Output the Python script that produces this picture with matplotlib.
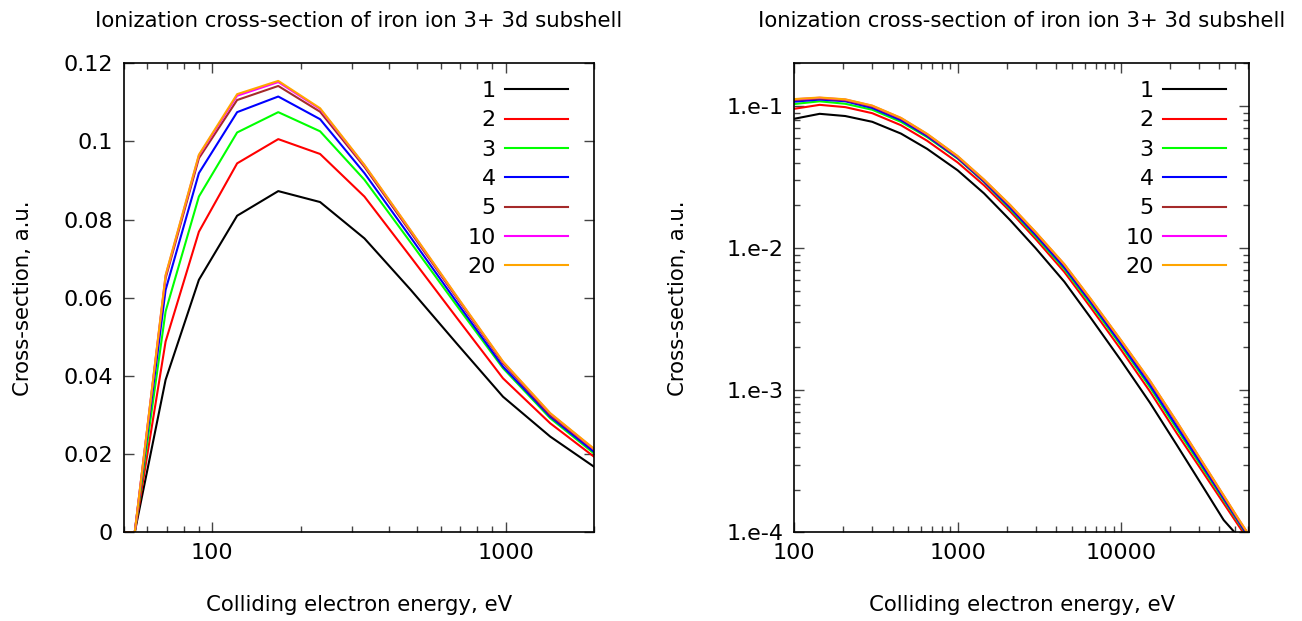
import numpy as np
import matplotlib
matplotlib.use('Agg')
import matplotlib.pyplot as plt
from matplotlib.ticker import LogLocator, FixedLocator, FuncFormatter, NullFormatter

# --- data ---
labels = ['1', '2', '3', '4', '5', '10', '20']
colors = ['#000000', '#ff0000', '#00ff00', '#0000ff', '#a52a2a', '#ff00ff', '#ffa500']

# left panel (linear y)
E_lin = [50, 54.4, 69.3, 90, 121.5, 167.8, 233, 330, 475, 681, 979, 1418, 2052]
s1_lin = [0, 0, 0.0390, 0.0646, 0.0810, 0.0873, 0.0845, 0.0752, 0.0620, 0.0483, 0.0347, 0.0245, 0.0162]
s2_lin = [0, 0, 0.0488, 0.0769, 0.0944, 0.1006, 0.0968, 0.0859, 0.0704, 0.0549, 0.0394, 0.0279, 0.0187]
s3_lin = [0, 0, 0.0565, 0.0859, 0.1023, 0.1075, 0.1026, 0.0902, 0.0741, 0.0580, 0.0420, 0.0292, 0.0195]
s4_lin = [0, 0, 0.0620, 0.0919, 0.1075, 0.1115, 0.1057, 0.0919, 0.0754, 0.0589, 0.0424, 0.0296, 0.0199]
s5_lin = [0, 0, 0.0650, 0.0957, 0.1106, 0.1142, 0.1076, 0.0935, 0.0767, 0.0600, 0.0433, 0.0300, 0.0205]
s10_lin = [0, 0, 0.0656, 0.0964, 0.1117, 0.1152, 0.1083, 0.0939, 0.0771, 0.0603, 0.0436, 0.0304, 0.0206]
s20_lin = [0, 0, 0.0658, 0.0966, 0.1121, 0.1155, 0.1085, 0.0940, 0.0772, 0.0604, 0.0437, 0.0305, 0.0207]

# right panel (log-log)
E_log = [100, 143, 205, 300, 450, 650, 1000, 1450, 2100, 3000, 4500, 6500, 10000,
         15000, 22000, 32000, 42500, 52000, 61000]
s1_log = [0.0814, 0.0882, 0.0851, 0.0775, 0.0640, 0.0500, 0.0353, 0.0243, 0.0157, 0.0100,
          0.0058, 0.00325, 0.00162, 8.2e-4, 4.1e-4, 2.06e-4, 1.22e-4, 9.4e-5, 7.7e-5]
s2_log = [0.0957, 0.1020, 0.0983, 0.0891, 0.0733, 0.0570, 0.0401, 0.0277, 0.0181, 0.0116,
          0.00679, 0.00384, 0.00193, 9.84e-4, 4.96e-4, 2.61e-4, 1.60e-4, 1.13e-4, 8.6e-5]
s3_log = [0.1034, 0.1080, 0.1038, 0.0942, 0.0774, 0.0605, 0.0427, 0.0292, 0.0188, 0.0121,
          0.00713, 0.00406, 0.00206, 1.054e-3, 5.33e-4, 2.77e-4, 1.69e-4, 1.19e-4, 9.0e-5]
s4_log = [0.1074, 0.1111, 0.1081, 0.0969, 0.0794, 0.0615, 0.0431, 0.0294, 0.0192, 0.0124,
          0.00731, 0.00419, 0.00212, 1.091e-3, 5.54e-4, 2.86e-4, 1.73e-4, 1.21e-4, 9.1e-5]
s5_log = [0.1103, 0.1132, 0.1099, 0.0993, 0.0814, 0.0628, 0.0438, 0.0299, 0.0198, 0.0128,
          0.00759, 0.00435, 0.00222, 1.155e-3, 5.90e-4, 2.99e-4, 1.79e-4, 1.24e-4, 9.4e-5]
s10_log = [0.1116, 0.1144, 0.1112, 0.1004, 0.0823, 0.0635, 0.0443, 0.0303, 0.0200, 0.01295,
           0.00768, 0.00440, 0.00224, 1.168e-3, 5.97e-4, 3.03e-4, 1.81e-4, 1.255e-4, 9.46e-5]
s20_log = [0.1120, 0.1149, 0.1116, 0.1008, 0.0826, 0.0638, 0.0445, 0.0304, 0.0201, 0.0130,
           0.00771, 0.00442, 0.00225, 1.173e-3, 5.99e-4, 3.04e-4, 1.82e-4, 1.26e-4, 9.5e-5]

lin_series = [s1_lin, s2_lin, s3_lin, s4_lin, s5_lin, s10_lin, s20_lin]
log_series = [s1_log, s2_log, s3_log, s4_log, s5_log, s10_log, s20_log]

title = 'Ionization cross-section of iron ion 3+ 3d subshell'
xlab = 'Colliding electron energy, eV'
ylab = 'Cross-section, a.u.'

plt.rcParams['font.family'] = 'DejaVu Sans'

fig = plt.figure(figsize=(13.02, 6.21), dpi=100)
W, H = 1302, 621
ax1 = fig.add_axes([124 / W, (H - 532.3) / H, 470 / W, 469 / H])
ax2 = fig.add_axes([794.3 / W, (H - 532.3) / H, 455 / W, 469 / H])


def style(ax, ylab_x):
    for sp in ax.spines.values():
        sp.set_linewidth(1.2)
    ax.tick_params(which='both', direction='in', top=True, right=True, color='#444444')
    ax.tick_params(which='major', length=7.5, width=1.0, labelsize=16, pad=8)
    ax.tick_params(which='minor', length=4.5, width=1.0)
    ax.set_title(title, fontsize=15.3, pad=26)
    ax.set_xlabel(xlab, fontsize=15.3)
    ax.set_ylabel(ylab, fontsize=15.3)
    ax.xaxis.set_label_coords(0.5, -0.133)
    ax.yaxis.set_label_coords(ylab_x, 0.5)


# left panel
for y, c, lab in zip(lin_series, colors, labels):
    ax1.plot(E_lin, y, color=c, lw=1.5, label=lab)
ax1.set_xscale('log')
ax1.set_xlim(50, 2000)
ax1.set_ylim(0, 0.12)
ax1.xaxis.set_major_locator(FixedLocator([100, 1000]))
ax1.xaxis.set_minor_locator(LogLocator(base=10, subs=np.arange(2, 10)))
ax1.xaxis.set_major_formatter(FuncFormatter(lambda v, p: '%g' % v))
ax1.xaxis.set_minor_formatter(NullFormatter())
ax1.yaxis.set_major_locator(FixedLocator([0, 0.02, 0.04, 0.06, 0.08, 0.1, 0.12]))
ax1.yaxis.set_major_formatter(FuncFormatter(lambda v, p: '%g' % v))
style(ax1, (33 - 124) / 470)

# right panel
for y, c, lab in zip(log_series, colors, labels):
    ax2.plot(E_log, y, color=c, lw=1.5, label=lab)
ax2.set_xscale('log')
ax2.set_yscale('log')
ax2.set_xlim(100, 61000)
ax2.set_ylim(1e-4, 0.2)
ax2.xaxis.set_major_locator(FixedLocator([100, 1000, 10000]))
ax2.xaxis.set_minor_locator(LogLocator(base=10, subs=np.arange(2, 10)))
ax2.xaxis.set_major_formatter(FuncFormatter(lambda v, p: '%g' % v))
ax2.xaxis.set_minor_formatter(NullFormatter())
ax2.yaxis.set_major_locator(FixedLocator([1e-4, 1e-3, 1e-2, 1e-1]))
ax2.yaxis.set_minor_locator(LogLocator(base=10, subs=np.arange(2, 10)))
ax2.yaxis.set_major_formatter(FuncFormatter(lambda v, p: '1.e%d' % round(np.log10(v))))
ax2.yaxis.set_minor_formatter(NullFormatter())
style(ax2, (688 - 794.3) / 455)

for ax, xa in [(ax1, (568 - 124) / 470), (ax2, (1226 - 794.3) / 455)]:
    ax.legend(loc='upper right', bbox_to_anchor=(xa, 0.962), frameon=False,
              markerfirst=False, fontsize=16, handlelength=2.85, handletextpad=0.4,
              labelspacing=0.42, borderpad=0, borderaxespad=0)

fig.savefig('out.png', dpi=100)
